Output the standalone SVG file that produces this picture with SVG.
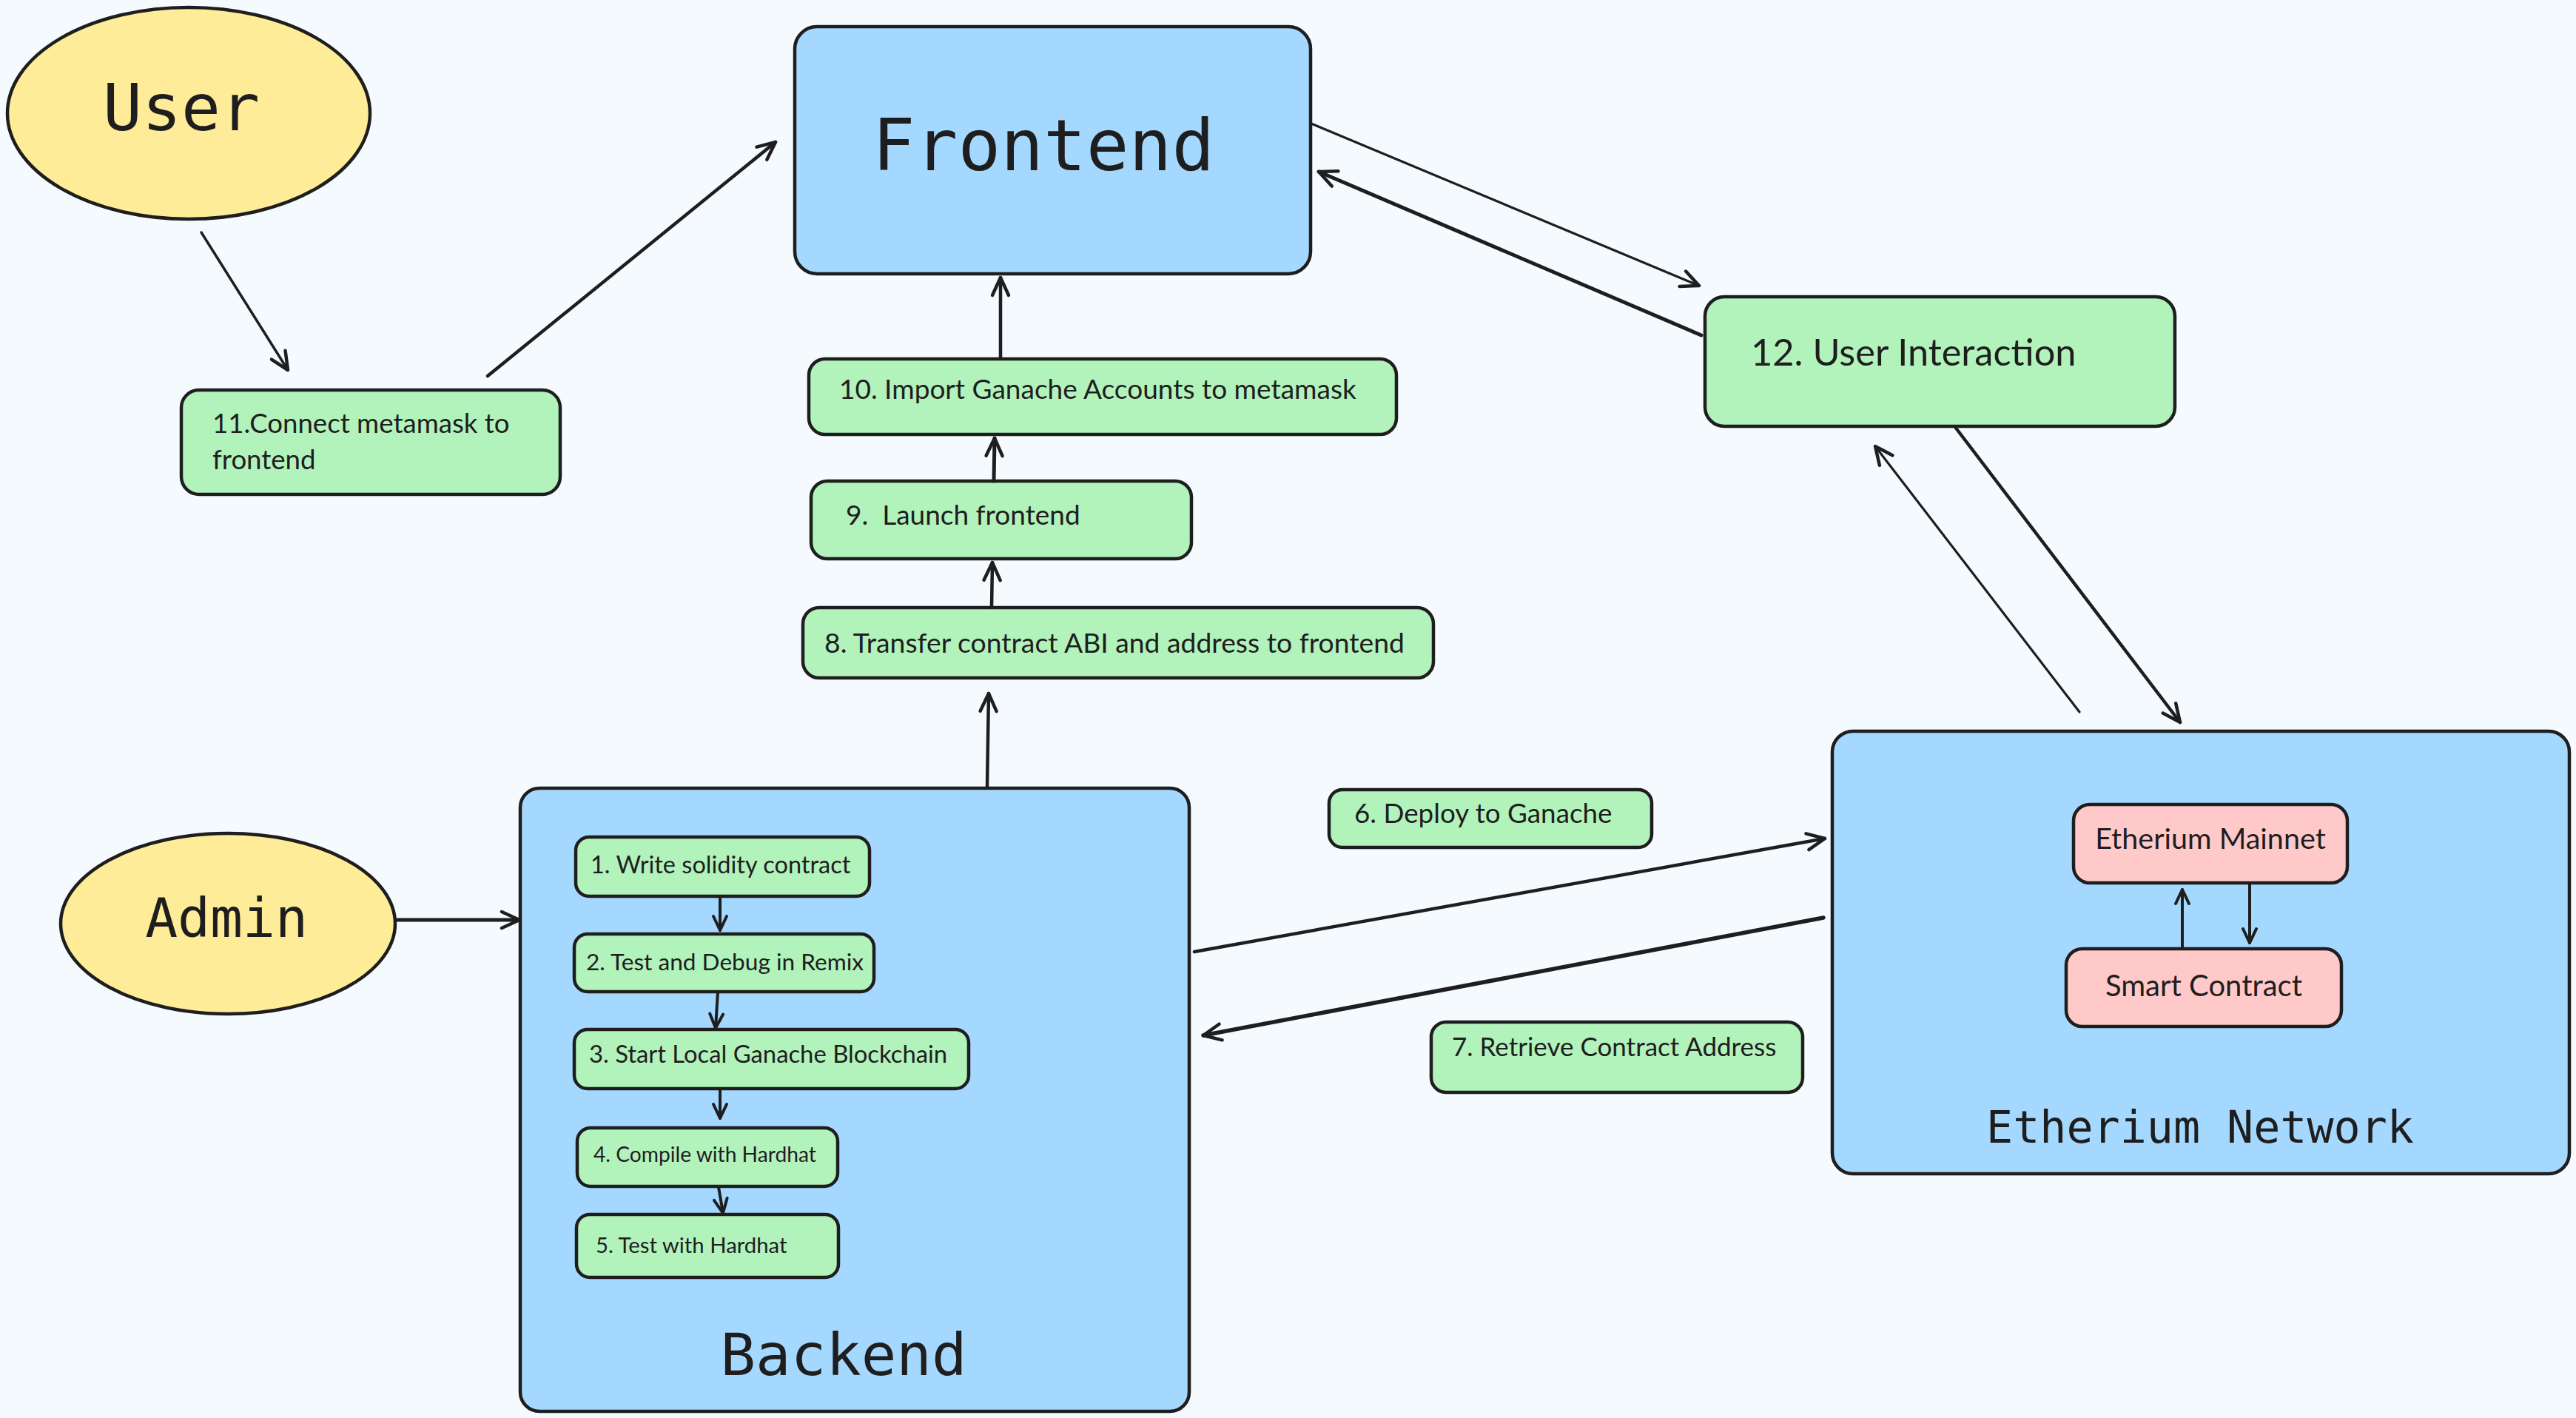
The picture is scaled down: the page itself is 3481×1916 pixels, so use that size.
<svg xmlns="http://www.w3.org/2000/svg" width="3481" height="1916" viewBox="0 0 3481 1916">
<defs>
<marker id="ah" markerUnits="userSpaceOnUse" markerWidth="40" markerHeight="40" refX="0" refY="0" viewBox="-30 -20 40 40" orient="auto" overflow="visible">
<path d="M -24 -11 L 0 0 L -24 11" fill="none" stroke="#1e1e1e" stroke-width="4.5" stroke-linecap="round" stroke-linejoin="round"/>
</marker>
<marker id="ahs" markerUnits="userSpaceOnUse" markerWidth="30" markerHeight="30" refX="0" refY="0" viewBox="-25 -15 30 30" orient="auto" overflow="visible">
<path d="M -19 -9 L 0 0 L -19 9" fill="none" stroke="#1e1e1e" stroke-width="4" stroke-linecap="round" stroke-linejoin="round"/>
</marker>
</defs>
<style>
.bg{fill:#f5faff}
.blue{fill:#a5d8ff;stroke:#1e1e1e;stroke-width:4.5}
.green{fill:#b2f2bb;stroke:#1e1e1e;stroke-width:4.5}
.pink{fill:#ffc9c9;stroke:#1e1e1e;stroke-width:4.5}
.yellow{fill:#ffec99;stroke:#1e1e1e;stroke-width:4.5}
.sans{font-family:Lato,"Noto Sans","Liberation Sans",sans-serif;fill:#1e1e1e}
.mono{font-family:"DejaVu Sans Mono","Liberation Mono",monospace;fill:#1e1e1e}
.c line{stroke:#1e1e1e;stroke-linecap:round;fill:none}
</style>
<rect class="bg" x="0" y="0" width="3481" height="1916"/>

<g id="user">
<ellipse class="yellow" cx="255" cy="153" rx="245" ry="143"/>
<text class="mono" x="245" y="176" font-size="88" text-anchor="middle">User</text>
</g>

<g id="frontend">
<rect class="blue" x="1074" y="36" width="697" height="334" rx="30"/>
<text class="mono" x="1410" y="230" font-size="96" text-anchor="middle">Frontend</text>
</g>

<g id="step11">
<rect class="green" x="245" y="527" width="512" height="141" rx="24"/>
<text class="sans" x="287" y="585" font-size="36.6">11.Connect metamask to</text>
<text class="sans" x="287" y="634" font-size="36.6">frontend</text>
</g>

<g id="step10">
<rect class="green" x="1093" y="485" width="794" height="102" rx="22"/>
<text class="sans" x="1134" y="539" font-size="37">10. Import Ganache Accounts to metamask</text>
</g>

<g id="step9">
<rect class="green" x="1096" y="650" width="514" height="105" rx="22"/>
<text class="sans" x="1143" y="709" font-size="37" xml:space="preserve">9.  Launch frontend</text>
</g>

<g id="step8">
<rect class="green" x="1085" y="821" width="852" height="95" rx="22"/>
<text class="sans" x="1114" y="882" font-size="37.3">8. Transfer contract ABI and address to frontend</text>
</g>

<g id="step12">
<rect class="green" x="2304" y="401" width="635" height="175" rx="26"/>
<text class="sans" x="2366" y="494" font-size="50.5">12. User Interaction</text>
</g>

<g id="admin">
<ellipse class="yellow" cx="308" cy="1248" rx="226" ry="122"/>
<text class="mono" x="306" y="1266" font-size="73" text-anchor="middle">Admin</text>
</g>

<g id="backend">
<rect class="blue" x="703" y="1065" width="904" height="842" rx="26"/>
<text class="mono" x="1140" y="1858" font-size="79" text-anchor="middle">Backend</text>
</g>

<g id="step1">
<rect class="green" x="778" y="1131" width="397" height="80" rx="18"/>
<text class="sans" x="798" y="1180" font-size="32.5">1. Write solidity contract</text>
</g>
<g id="step2">
<rect class="green" x="776" y="1262" width="405" height="78" rx="18"/>
<text class="sans" x="792" y="1311" font-size="31.6">2. Test and Debug in Remix</text>
</g>
<g id="step3">
<rect class="green" x="776" y="1391" width="533" height="80" rx="18"/>
<text class="sans" x="796" y="1436" font-size="32.8">3. Start Local Ganache Blockchain</text>
</g>
<g id="step4">
<rect class="green" x="780" y="1524" width="352" height="79" rx="18"/>
<text class="sans" x="802" y="1570" font-size="28.2">4. Compile with Hardhat</text>
</g>
<g id="step5">
<rect class="green" x="779" y="1641" width="354" height="85" rx="18"/>
<text class="sans" x="805" y="1693" font-size="29.3">5. Test with Hardhat</text>
</g>

<g id="step6">
<rect class="green" x="1796" y="1067" width="436" height="78" rx="18"/>
<text class="sans" x="1830" y="1112" font-size="36.8">6. Deploy to Ganache</text>
</g>
<g id="step7">
<rect class="green" x="1934" y="1381" width="502" height="95" rx="20"/>
<text class="sans" x="1962" y="1427" font-size="35">7. Retrieve Contract Address</text>
</g>

<g id="ethereum-network">
<rect class="blue" x="2476" y="988" width="996" height="598" rx="28"/>
<text class="mono" x="2973" y="1544" font-size="60" text-anchor="middle">Etherium Network</text>
</g>
<g id="mainnet">
<rect class="pink" x="2802" y="1087" width="370" height="106" rx="22"/>
<text class="sans" x="2987" y="1147" font-size="39.5" text-anchor="middle">Etherium Mainnet</text>
</g>
<g id="smart-contract">
<rect class="pink" x="2792" y="1282" width="372" height="105" rx="22"/>
<text class="sans" x="2978" y="1346" font-size="40" text-anchor="middle">Smart Contract</text>
</g>

<g id="connectors" class="c">
<line x1="272" y1="314" x2="389" y2="500" stroke-width="3.5" marker-end="url(#ah)"/>
<line x1="659" y1="508" x2="1048" y2="192" stroke-width="4.5" marker-end="url(#ah)"/>
<line x1="1352" y1="485" x2="1352" y2="375" stroke-width="4.5" marker-end="url(#ah)"/>
<line x1="1343" y1="650" x2="1344" y2="592" stroke-width="5" marker-end="url(#ah)"/>
<line x1="1340" y1="821" x2="1341" y2="760" stroke-width="4.5" marker-end="url(#ah)"/>
<line x1="1334" y1="1063" x2="1336" y2="937" stroke-width="4.5" marker-end="url(#ah)"/>
<line x1="1772" y1="167" x2="2296" y2="386" stroke-width="3.2" marker-end="url(#ah)"/>
<line x1="2299" y1="453" x2="1782" y2="232" stroke-width="5" marker-end="url(#ah)"/>
<line x1="2642" y1="577" x2="2946" y2="976" stroke-width="4.5" marker-end="url(#ah)"/>
<line x1="2810" y1="962" x2="2534" y2="603" stroke-width="3.2" marker-end="url(#ah)"/>
<line x1="537" y1="1243" x2="702" y2="1243" stroke-width="5" marker-end="url(#ah)"/>
<line x1="973" y1="1211" x2="973" y2="1257" stroke-width="4" marker-end="url(#ahs)"/>
<line x1="970" y1="1340" x2="967" y2="1389" stroke-width="4" marker-end="url(#ahs)"/>
<line x1="973" y1="1471" x2="973" y2="1511" stroke-width="4" marker-end="url(#ahs)"/>
<line x1="971" y1="1604" x2="977" y2="1639" stroke-width="4" marker-end="url(#ahs)"/>
<line x1="1614" y1="1286" x2="2466" y2="1133" stroke-width="4.5" marker-end="url(#ah)"/>
<line x1="2464" y1="1240" x2="1626" y2="1399" stroke-width="5.5" marker-end="url(#ah)"/>
<line x1="2949" y1="1282" x2="2949" y2="1202" stroke-width="4" marker-end="url(#ahs)"/>
<line x1="3040" y1="1193" x2="3040" y2="1274" stroke-width="4" marker-end="url(#ahs)"/>
</g>
</svg>
